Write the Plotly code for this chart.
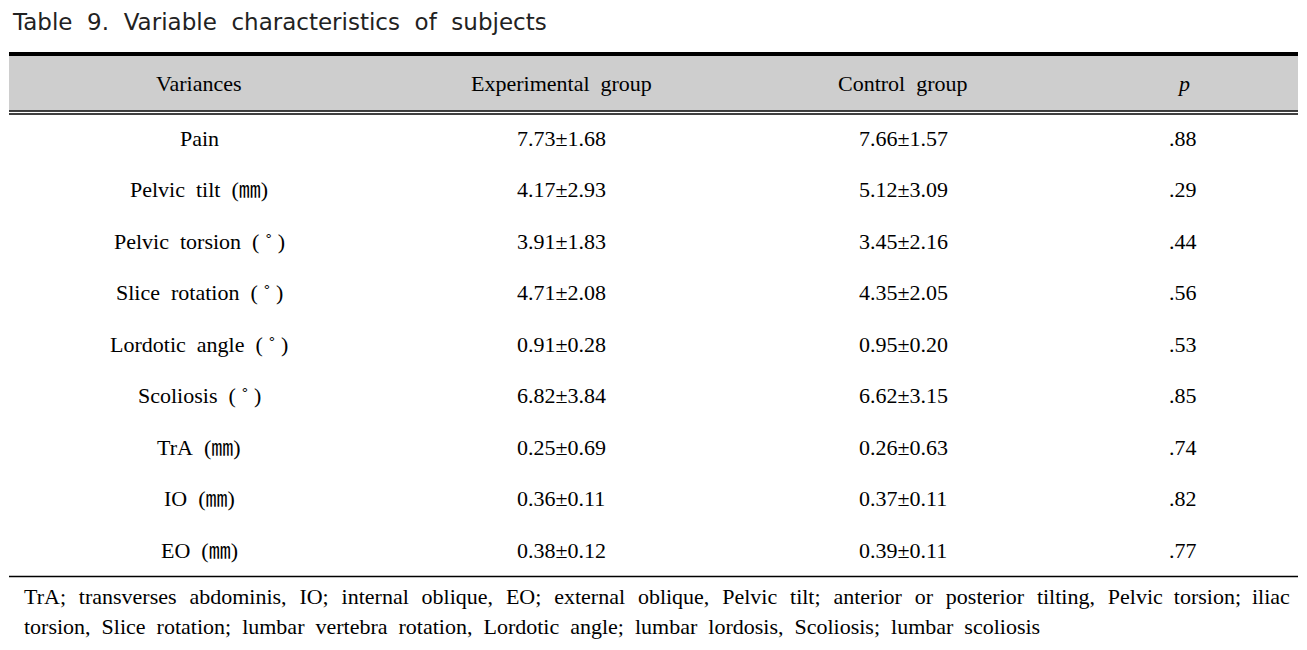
import plotly.graph_objects as go

title = "Table  9.  Variable  characteristics  of  subjects"
headers = ["Variances", "Experimental  group", "Control  group", "<i>p</i>"]
variables = ["Pain", "Pelvic  tilt  (㎜)", "Pelvic  torsion  ( ˚ )", "Slice  rotation  ( ˚ )",
             "Lordotic  angle  ( ˚ )", "Scoliosis  ( ˚ )", "TrA  (㎜)", "IO  (㎜)", "EO  (㎜)"]
exp_vals = ["7.73±1.68", "4.17±2.93", "3.91±1.83", "4.71±2.08", "0.91±0.28",
            "6.82±3.84", "0.25±0.69", "0.36±0.11", "0.38±0.12"]
ctrl_vals = ["7.66±1.57", "5.12±3.09", "3.45±2.16", "4.35±2.05", "0.95±0.20",
             "6.62±3.15", "0.26±0.63", "0.37±0.11", "0.39±0.11"]
p_vals = [".88", ".29", ".44", ".56", ".53", ".85", ".74", ".82", ".77"]
footnote = ["TrA;  transverses  abdominis,  IO;  internal  oblique,  EO;  external  oblique,  Pelvic  tilt;  anterior  or  posterior  tilting,  Pelvic  torsion;  iliac",
            "torsion,  Slice  rotation;  lumbar  vertebra  rotation,  Lordotic  angle;  lumbar  lordosis,  Scoliosis;  lumbar  scoliosis"]

W, H = 1307, 650
OFF = 8  # compensate page body margin
col_x = [199, 561, 903, 1183]
header_y = 83
row_y0, row_dy = 138, 51.5
serif = "Liberation Serif, Times New Roman, Noto Sans CJK KR, serif"

fig = go.Figure()
fig.update_layout(
    width=W, height=H, margin=dict(l=0, r=0, t=0, b=0),
    paper_bgcolor="white", plot_bgcolor="white", showlegend=False,
    xaxis=dict(range=[OFF, W + OFF], visible=False, fixedrange=True),
    yaxis=dict(range=[H + OFF, OFF], visible=False, fixedrange=True),
)

shapes = [
    dict(type="rect", x0=9, x1=1298, y0=56, y1=110.5, fillcolor="#cecece", line_width=0, layer="below"),
    dict(type="rect", x0=9, x1=1298, y0=52, y1=56, fillcolor="black", line_width=0),
    dict(type="line", x0=9, x1=1298, y0=111, y1=111, line=dict(color="black", width=1.5)),
    dict(type="line", x0=9, x1=1298, y0=114, y1=114, line=dict(color="black", width=1.5)),
    dict(type="line", x0=9, x1=1298, y0=576.5, y1=576.5, line=dict(color="black", width=1.5)),
]
fig.update_layout(shapes=shapes)

def sp(s):
    return s.replace("  ", "\u00a0\u00a0")

def justify(s, n_extra):
    parts = s.split("  ")
    out = parts[0]
    for g, w in enumerate(parts[1:]):
        out += "\u00a0\u00a0" + ("\u200a" if g < n_extra else "") + w
    return out

ann = []
ann.append(dict(x=10, y=22, text=sp(title), xanchor="left", yanchor="middle", showarrow=False,
                font=dict(family="DejaVu Sans, Noto Sans, sans-serif", size=23, color="#222")))
for j, h in enumerate(headers):
    ann.append(dict(x=col_x[j], y=header_y, text=sp(h), showarrow=False,
                    xanchor="center", yanchor="middle", font=dict(family=serif, size=22, color="black")))
for i in range(len(variables)):
    y = row_y0 + i * row_dy
    for j, v in enumerate([variables[i], exp_vals[i], ctrl_vals[i], p_vals[i]]):
        ann.append(dict(x=col_x[j], y=y, text=sp(v), showarrow=False,
                        xanchor="center", yanchor="middle", font=dict(family=serif, size=22, color="black")))
for k, line in enumerate(footnote):
    txt = justify(line, 15) if k == 0 else sp(line)
    ann.append(dict(x=22, y=596 + k * 30, text=txt, showarrow=False,
                    xanchor="left", yanchor="middle", font=dict(family=serif, size=22, color="black")))
fig.update_layout(annotations=ann)

fig.write_html("out.html")
